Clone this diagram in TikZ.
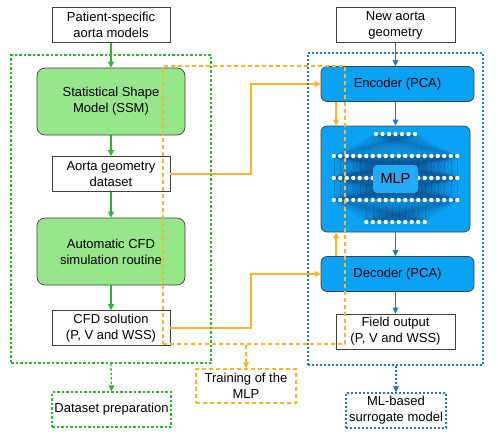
\documentclass[tikz,border=0pt]{standalone}
\usepackage{fontspec}
\setmainfont{Liberation Sans}
\usepackage{tikz}
\usetikzlibrary{positioning, arrows.meta}

\definecolor{boxgreen}{HTML}{96E68A}
\definecolor{linegreen}{HTML}{2DB52D}
\definecolor{boxblue}{HTML}{0AA2F5}
\definecolor{labelblue}{HTML}{22ABF8}
\definecolor{lineblue}{HTML}{1F7BC4}
\definecolor{lineorange}{HTML}{FFB427}
\definecolor{netblue}{HTML}{0B3F78}

\begin{document}
\begin{tikzpicture}[x=1pt, y=-1pt,
    every node/.style={font=\fontsize{13}{16}\selectfont, align=center, inner sep=0pt},
    plainbox/.style={draw=black!75, line width=0.7pt, fill=white, minimum width=118pt, minimum height=35pt},
    greenbox/.style={draw=black!75, line width=0.7pt, fill=boxgreen, rounded corners=8pt, minimum width=148pt, minimum height=67pt},
    bluebox/.style={draw=black!75, line width=0.7pt, fill=boxblue, rounded corners=6pt, minimum width=153pt, minimum height=35pt},
    greenframe/.style={draw=linegreen, line width=1.2pt, dash pattern=on 2.5pt off 2pt},
    blueframe/.style={draw=lineblue, line width=1.2pt, dash pattern=on 2pt off 2pt},
    orangeframe/.style={draw=lineorange, line width=1.3pt, dash pattern=on 4pt off 3pt},
    tip/.style={-{Triangle[length=6pt, width=5.5pt]}, line width=1.3pt}
  ]
    \useasboundingbox (0,0) rectangle (498,445);

    % Left column: dataset preparation
    \node[plainbox] (patient) at (111,25) {Patient-specific\\aorta models};
    \node[greenbox] (ssm) at (111,101.5) {Statistical Shape\\Model (SSM)};
    \node[plainbox] (aorta) at (111,174) {Aorta geometry\\dataset};
    \node[greenbox] (cfd) at (111,251.5) {Automatic CFD\\simulation routine};
    \node[plainbox] (sol) at (111,328) {CFD solution\\(P, V and WSS)};
    \node[greenframe, minimum width=119pt, minimum height=35pt] (prep) at (111.5,409.5) {Dataset preparation};

    % Right column: surrogate model
    \node[plainbox, minimum width=119pt] (new) at (395.5,25) {New aorta\\geometry};
    \node[bluebox] (enc) at (397.5,84) {Encoder (PCA)};
    \node[draw=black!75, line width=0.7pt, fill=boxblue, rounded corners=6pt,
          minimum width=149pt, minimum height=106pt] (mlp) at (395.5,179) {};
    \node[bluebox] (dec) at (397.5,274) {Decoder (PCA)};
    \node[plainbox, minimum width=119pt] (field) at (395.5,331.5) {Field output\\(P, V and WSS)};
    \node[blueframe, minimum width=100pt, minimum height=35pt] (ml) at (396,410.5) {ML-based\\surrogate model};

    % Middle: training
    \node[orangeframe, minimum width=100pt, minimum height=34pt] (train) at (246,386) {Training of the\\MLP};

    % Network inside the MLP box: connections first, then neurons
    \foreach \na/\ya/\nb/\yb in {7/134/20/156, 20/156/20/178, 20/178/20/200, 20/200/10/222} {
      \foreach \i in {1,...,\na} {
        \foreach \j in {1,...,\nb} {
          \draw[netblue, line width=0.2pt, opacity=0.3]
            ({395.5+(\i-(\na+1)/2)*6.5},\ya) -- ({395.5+(\j-(\nb+1)/2)*6.5},\yb);
        }
      }
    }
    \foreach \n/\y in {7/134, 20/156, 20/178, 20/200, 10/222} {
      \foreach \i in {1,...,\n} {
        \fill[white] ({395.5+(\i-(\n+1)/2)*6.5},\y) circle (2.2pt);
      }
    }
    \node[fill=labelblue, rounded corners=4pt, minimum width=45pt, minimum height=28pt,
          font=\fontsize{14.5}{16}\selectfont] (mlplabel) at (395.5,179) {MLP};

    % Orange arrows
    \coordinate (bend) at (251,0);
    \coordinate (tap) at (336,0);
    \draw[tip, lineorange] (aorta.east) -- (aorta.east -| bend) -- (bend |- enc.west) -- (enc.west);
    \draw[tip, lineorange] (sol.east) -- (sol.east -| bend) -- (bend |- dec.west) -- (dec.west);
    \draw[tip, lineorange] (enc.south -| tap) -- (mlp.north -| tap);
    \draw[tip, lineorange] (dec.north -| tap) -- (mlp.south -| tap);

    % Frames
    \node[greenframe, minimum width=200pt, minimum height=308pt] (dataframe) at (111,209) {};
    \node[blueframe, minimum width=175pt, minimum height=312pt] (mlframe) at (395.5,209) {};

    % Green arrows
    \draw[tip, linegreen] (patient) -- (ssm);
    \draw[tip, linegreen] (ssm) -- (aorta);
    \draw[tip, linegreen] (aorta) -- (cfd);
    \draw[tip, linegreen] (cfd) -- (sol);
    \draw[tip, linegreen, dash pattern=on 2.5pt off 2pt] (dataframe.south) -- (prep.north);

    % Blue arrows
    \draw[tip, lineblue] (new.south) -- (new.south |- enc.north);
    \draw[tip, lineblue] (new.south |- enc.south) -- (new.south |- mlp.north);
    \draw[tip, lineblue] (mlp.south) -- (mlp.south |- dec.north);
    \draw[tip, lineblue] (field.north |- dec.south) -- (field.north);
    \draw[tip, lineblue, dash pattern=on 2pt off 2pt] (mlframe.south -| ml.north) -- (ml.north);

    % Training frame on top
    \node[orangeframe, minimum width=182pt, minimum height=278pt] (trainframe) at (254,205) {};
    \draw[tip, lineorange, dash pattern=on 4pt off 3pt] (train.north |- trainframe.south) -- (train.north);
  \end{tikzpicture}
\end{document}
